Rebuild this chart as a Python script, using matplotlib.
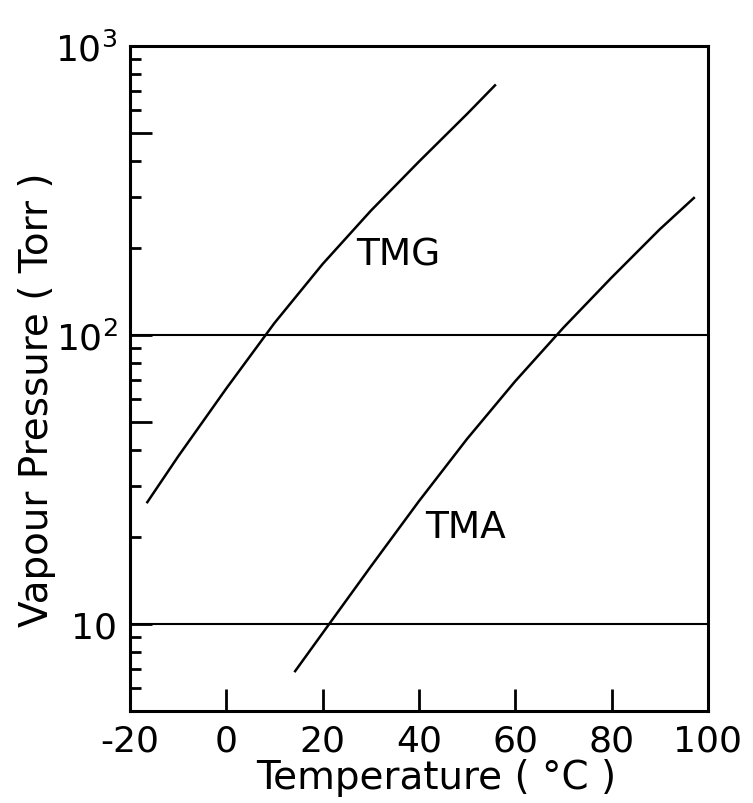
import matplotlib
matplotlib.use("Agg")
import matplotlib.pyplot as plt
from matplotlib.ticker import FixedLocator, FixedFormatter

# Data
tmg_temp = [-16.4, -10, 0, 10, 20, 30, 40, 50, 55.8]
tmg_pres = [26.4, 38.0, 65.3, 110, 176, 269, 398, 582, 731]
tma_temp = [14.3, 20, 30, 40, 50, 60, 70, 80, 90, 97.1]
tma_pres = [6.87, 9.3, 15.8, 26.6, 43.7, 69.2, 106, 158, 232, 298]

x_ticks = [-20, 0, 20, 40, 60, 80, 100]
x_labels = ["-20", "0", "20", "40", "60", "80", "100"]
y_major = [5, 10, 50, 100, 500, 1000]
y_labels = ["", "10", "", "$10^2$", "", "$10^3$"]
y_minor = [6, 7, 8, 9, 20, 30, 40, 60, 70, 80, 90, 200, 300, 400, 600, 700, 800, 900]
ref_lines = [10, 100]

plt.rcParams['font.family'] = ['DejaVu Sans']
plt.rcParams['mathtext.fontset'] = 'dejavusans'

fig = plt.figure(figsize=(7.53, 8.04), dpi=100)
ax = fig.add_axes([0.1726, 0.1144, 0.7674, 0.8271])

ax.set_yscale('log')
ax.set_xlim(-20, 100)
ax.set_ylim(5, 1000)

ax.plot(tmg_temp, tmg_pres, color='black', lw=1.8, solid_joinstyle='round')
ax.plot(tma_temp, tma_pres, color='black', lw=1.8, solid_joinstyle='round')
for v in ref_lines:
    ax.axhline(v, color='black', lw=1.5)

ax.text(27.0, 190, "TMG", fontsize=27, va='center', ha='left')
ax.text(41.2, 21.6, "TMA", fontsize=27, va='center', ha='left')

for s in ax.spines.values():
    s.set_linewidth(2.2)

ax.xaxis.set_major_locator(FixedLocator(x_ticks))
ax.xaxis.set_major_formatter(FixedFormatter(x_labels))
ax.yaxis.set_major_locator(FixedLocator(y_major))
ax.yaxis.set_major_formatter(FixedFormatter(y_labels))
ax.yaxis.set_minor_locator(FixedLocator(y_minor))
ax.yaxis.set_minor_formatter(FixedFormatter([""] * len(y_minor)))
ax.xaxis.set_minor_locator(FixedLocator([]))

ax.tick_params(axis='x', which='major', direction='in', length=16, width=2.0,
               labelsize=26, pad=9, top=False)
ax.tick_params(axis='y', which='major', direction='in', length=16, width=2.0,
               labelsize=26, pad=9, right=False)
ax.tick_params(axis='y', which='minor', direction='in', length=8, width=2.0,
               right=False)
for t in ax.yaxis.get_major_ticks():
    t.label1.set_va('center_baseline')

ax.set_xlabel("Temperature ( \u00b0C )", fontsize=28)
ax.xaxis.set_label_coords(0.53, -0.07, transform=ax.transAxes)
ax.xaxis.label.set_va('top')
ax.set_ylabel("Vapour Pressure ( Torr )", fontsize=28)
ax.yaxis.set_label_coords(-0.128, 0.47)

fig.savefig("out.png", dpi=100)
